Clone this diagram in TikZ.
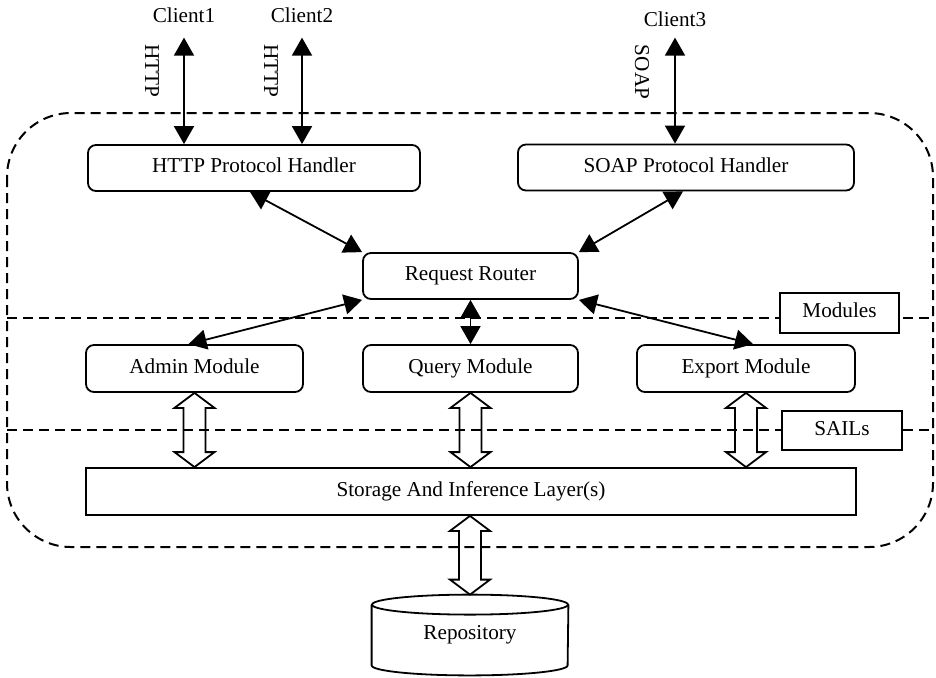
\documentclass[tikz,border=0pt]{standalone}
\usepackage{fontspec}
\setmainfont{Liberation Serif}
\usetikzlibrary{arrows.meta,calc}
\tikzset{
  every node/.style={font=\fontsize{10.6pt}{12.5pt}\selectfont},
  rbox/.style={draw, line width=0.9pt, rounded corners=4pt, minimum height=23pt, inner sep=0pt, text height=7.2pt, text depth=2.3pt},
  sbox/.style={draw, line width=0.9pt, minimum height=23pt, inner sep=0pt, text height=7.2pt, text depth=2.3pt},
  tagbox/.style={draw, line width=0.9pt, fill=white, minimum height=20pt, inner sep=0pt, text height=7.2pt, text depth=2.3pt},
  dashline/.style={line width=1pt, dash pattern=on 5pt off 3pt},
  biarrow/.style={line width=0.9pt, {Triangle[length=9pt,width=10pt]}-{Triangle[length=9pt,width=10pt]}},
  hollow/.style={line width=0.9pt, line join=miter},
  clientlbl/.style={anchor=base, inner sep=0pt},
}
\newcommand{\hollowdbl}[2]{%
  \draw[hollow] let \p1=#1, \p2=#2 in
    (\x1,\y1) -- (\x1+10pt,\y1-7.5pt) -- (\x1+5.5pt,\y1-7.5pt) -- (\x1+5.5pt,\y2+7.5pt)
    -- (\x1+10pt,\y2+7.5pt) -- (\x1,\y2) -- (\x1-10pt,\y2+7.5pt) -- (\x1-5.5pt,\y2+7.5pt)
    -- (\x1-5.5pt,\y1-7.5pt) -- (\x1-10pt,\y1-7.5pt) -- cycle;}
\begin{document}
\begin{tikzpicture}[x=0.5pt,y=-0.5pt]
\useasboundingbox (0,0) rectangle (936,677);
% outer dashed container and layer lines
\draw[dashline, rounded corners=32pt] (7,113) rectangle (933,547);
\draw[dashline] (7,318) -- (933,318);
\draw[dashline] (7,430) -- (933,430);
% layer tags
\node[tagbox, minimum width=59.5pt] (modules) at (839.5,313) {Modules};
\node[tagbox, minimum width=60pt, minimum height=19.5pt] (sails) at (842,430.5) {SAILs};
% clients
\node[clientlbl] (client1) at (184,22) {Client1};
\node[clientlbl] (client2) at (302,22) {Client2};
\node[clientlbl] (client3) at (675,26) {Client3};
% protocol labels
\node[rotate=-90, inner sep=0pt] (lblhttp1) at (152,71) {HTTP};
\node[rotate=-90, inner sep=0pt] (lblhttp2) at (271,71) {HTTP};
\node[rotate=-90, inner sep=0pt] (lblsoap) at (642,72) {SOAP};
% main boxes
\node[rbox, minimum width=166pt] (http) at (254,168) {HTTP Protocol Handler};
\node[rbox, minimum width=168pt] (soap) at (686,167.5) {SOAP Protocol Handler};
\node[rbox, minimum width=107.5pt] (router) at (470.5,276) {Request Router};
\node[rbox, minimum width=108.5pt, minimum height=23.5pt] (admin) at (194.5,368.5) {Admin Module};
\node[rbox, minimum width=107.5pt, minimum height=23.5pt] (query) at (470.5,368.5) {Query Module};
\node[rbox, minimum width=109pt, minimum height=23.5pt] (export) at (746,368.5) {Export Module};
\node[sbox, minimum width=385pt, minimum height=23.5pt] (storage) at (471,491.5) {Storage And Inference Layer(s)};
% repository cylinder
\node[minimum width=98pt, minimum height=40pt, inner sep=0pt] (repo) at (470,635) {Repository};
\draw[line width=0.9pt] ([yshift=-5pt]repo.north west) -- ([yshift=5pt]repo.south west)
  arc[start angle=180, end angle=360, x radius=49pt, y radius=5pt]
  -- ([yshift=-5pt]repo.north east);
\draw[line width=0.9pt] ([yshift=-5pt]repo.north) ellipse [x radius=49pt, y radius=5pt];
% client connectors
\draw[biarrow] ([yshift=-7.5pt]client1.south) -- (http.north -| client1.south);
\draw[biarrow] ([yshift=-7.5pt]client2.south) -- (http.north -| client2.south);
\draw[biarrow] ([yshift=-5.5pt]client3.south) -- (soap.north -| client3.south);
% router connectors
\draw[biarrow] ([xshift=-2pt]http.south) -- (router.north west);
\draw[biarrow] ([xshift=-1.5pt]soap.south) -- (router.north east);
\draw[biarrow] (router.south west) -- ([xshift=-3pt]admin.north);
\draw[biarrow] (router.south) -- (query.north);
\draw[biarrow] (router.south east) -- ([xshift=3.5pt]export.north);
% hollow double arrows
\hollowdbl{(admin.south)}{(storage.north -| admin.south)}
\hollowdbl{(query.south)}{(storage.north -| query.south)}
\hollowdbl{(export.south)}{(storage.north -| export.south)}
\hollowdbl{(storage.south -| repo.north)}{(repo.north)}
\end{tikzpicture}
\end{document}
